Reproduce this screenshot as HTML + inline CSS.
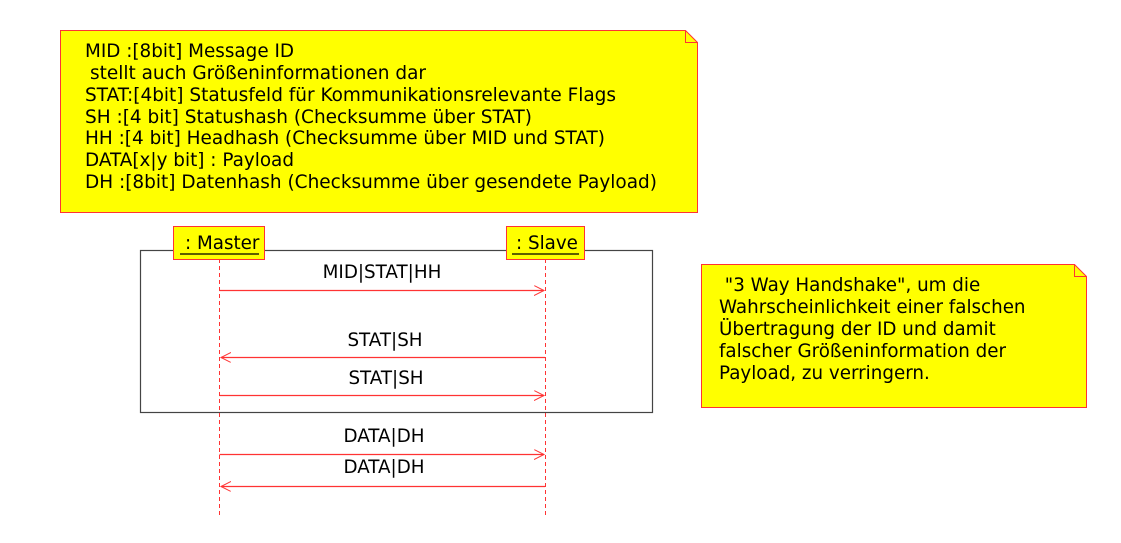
<!DOCTYPE html>
<html><head><meta charset="utf-8"><style>html,body{margin:0;padding:0;background:#fff;}svg{display:block}</style></head>
<body>
<svg width="1121" height="543" xmlns="http://www.w3.org/2000/svg" font-family="DejaVu Sans, Liberation Sans, sans-serif" font-size="18.3" fill="#000">
<defs>
<marker id="ah" markerWidth="12" markerHeight="12" refX="10" refY="5" orient="auto" markerUnits="userSpaceOnUse">
<path d="M0,0 L10,5 L0,10" fill="none" stroke="#ff3333" stroke-width="1"/>
</marker>
</defs>
<path d="M60.5,30.5 H685.5 L697.5,42.5 V212.5 H60.5 Z" fill="#ffff00" stroke="#ff3333"/>
<path d="M685.5,30.5 V42.5 H697.5" fill="none" stroke="#ff3333"/>
<g font-size="18.3">
<text x="85" y="57" textLength="209" lengthAdjust="spacingAndGlyphs">MID :[8bit] Message ID</text>
<text x="90" y="79" textLength="336" lengthAdjust="spacingAndGlyphs">stellt auch Größeninformationen dar</text>
<text x="85" y="101" textLength="531" lengthAdjust="spacingAndGlyphs">STAT:[4bit] Statusfeld für Kommunikationsrelevante Flags</text>
<text x="85" y="123" textLength="447" lengthAdjust="spacingAndGlyphs">SH :[4 bit] Statushash (Checksumme über STAT)</text>
<text x="85" y="144" textLength="520" lengthAdjust="spacingAndGlyphs">HH :[4 bit] Headhash (Checksumme über MID und STAT)</text>
<text x="85" y="166" textLength="209" lengthAdjust="spacingAndGlyphs">DATA[x|y bit] : Payload</text>
<text x="85" y="188" textLength="572" lengthAdjust="spacingAndGlyphs">DH :[8bit] Datenhash (Checksumme über gesendete Payload)</text>
</g>
<rect x="140.5" y="250.5" width="512" height="162" fill="none" stroke="#444" stroke-width="1.2"/>
<line x1="219.5" y1="259" x2="219.5" y2="515" stroke="#ff3333" stroke-dasharray="4,3"/>
<line x1="545.5" y1="259" x2="545.5" y2="515" stroke="#ff3333" stroke-dasharray="4,3"/>
<rect x="173.5" y="226.5" width="91" height="33" fill="#ffff00" stroke="#ff3333"/>
<text x="185" y="249">: Master</text>
<line x1="180" y1="254" x2="259" y2="254" stroke="#000" stroke-width="1.3"/>
<rect x="506.5" y="226.5" width="78" height="33" fill="#ffff00" stroke="#ff3333"/>
<text x="516" y="249">: Slave</text>
<line x1="512" y1="254" x2="579" y2="254" stroke="#000" stroke-width="1.3"/>
<g stroke="#ff3333" stroke-width="1.2">
<line x1="219.5" y1="290.5" x2="544" y2="290.5" marker-end="url(#ah)"/>
<line x1="545" y1="357.5" x2="221" y2="357.5" marker-end="url(#ah)"/>
<line x1="219.5" y1="395.5" x2="544" y2="395.5" marker-end="url(#ah)"/>
<line x1="219.5" y1="454.5" x2="544" y2="454.5" marker-end="url(#ah)"/>
<line x1="545" y1="486.5" x2="221" y2="486.5" marker-end="url(#ah)"/>
</g>
<g text-anchor="middle">
<text x="382" y="278">MID|STAT|HH</text>
<text x="385" y="346">STAT|SH</text>
<text x="386" y="384">STAT|SH</text>
<text x="384" y="442">DATA|DH</text>
<text x="384" y="473">DATA|DH</text>
</g>
<path d="M701.5,264.5 H1074.5 L1086.5,276.5 V407.5 H701.5 Z" fill="#ffff00" stroke="#ff3333"/>
<path d="M1074.5,264.5 V276.5 H1086.5" fill="none" stroke="#ff3333"/>
<text x="719" y="291" xml:space="preserve"> "3 Way Handshake", um die</text>
<text x="719" y="313">Wahrscheinlichkeit einer falschen</text>
<text x="719" y="335">Übertragung der ID und damit</text>
<text x="719" y="357">falscher Größeninformation der</text>
<text x="719" y="379">Payload, zu verringern.</text>
</svg>
</body></html>
